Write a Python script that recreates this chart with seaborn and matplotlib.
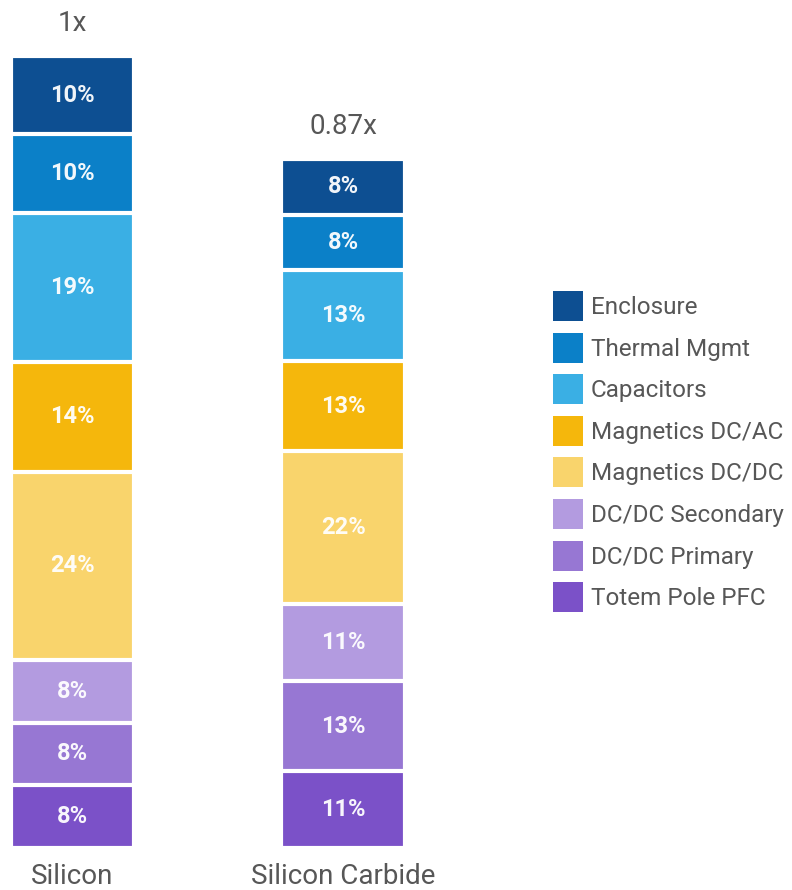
import matplotlib
matplotlib.use("Agg")
import matplotlib.pyplot as plt
import matplotlib.transforms as mtransforms
from matplotlib.patches import Patch
import numpy as np
import pandas as pd
import seaborn as sns

# Cost breakdown of an on-board charger, silicon vs. silicon carbide
materials = ["Silicon", "Silicon Carbide"]
relative_cost = [1.0, 0.87]
cost_labels = ["1x", "0.87x"]

# Components listed from the top of the stack to the bottom
components = ["Enclosure", "Thermal Mgmt", "Capacitors", "Magnetics DC/AC",
              "Magnetics DC/DC", "DC/DC Secondary", "DC/DC Primary",
              "Totem Pole PFC"]
silicon_pct = [10, 10, 19, 14, 24, 8, 8, 8]
sic_pct = [8, 8, 13, 13, 22, 11, 13, 11]

colors = ["#0d4f92", "#0b80c8", "#3aafe4", "#f5b70c", "#f9d46c",
          "#b39be0", "#9777d3", "#7b51c8"]

# Build a tidy table: each segment's height is its share of the bar total
rows = []
for mat, total, pcts in zip(materials, relative_cost, [silicon_pct, sic_pct]):
    pcts = np.array(pcts, dtype=float)
    heights = pcts / pcts.sum() * total
    # cumulative from the bottom of the stack
    bottoms_up = np.cumsum(heights[::-1])[::-1]
    for comp, p, h, top in zip(components, pcts, heights, bottoms_up):
        rows.append({"material": mat, "component": comp, "pct": p,
                     "height": h, "top": top})
df = pd.DataFrame(rows)

sns.set_theme(style="white")
plt.rcParams["font.family"] = ["Roboto", "DejaVu Sans"]

fig = plt.figure(figsize=(7.92, 8.9), dpi=100)
W, H = 792, 890
ax_left_px, ax_right_px = 0, 540
ax_top_px, ax_bot_px = 56, 848
ax = fig.add_axes([ax_left_px / W, (H - ax_bot_px) / H,
                   (ax_right_px - ax_left_px) / W, (ax_bot_px - ax_top_px) / H])

# Overlaid cumulative bars drawn tallest first give a stacked look
sns.barplot(data=df, x="material", y="top", hue="component",
            hue_order=components, order=materials, palette=colors,
            dodge=False, width=0.455, saturation=1, edgecolor="white",
            linewidth=3, legend=False, ax=ax)

text_grey = "#575757"

# Percent labels centred in each segment
for i, mat in enumerate(materials):
    sub = df[df["material"] == mat]
    for _, r in sub.iterrows():
        ax.text(i, r["top"] - r["height"] / 2, f"{int(r['pct'])}%",
                ha="center", va="center", color="white", alpha=0.95,
                fontsize=17, fontweight="bold")
    ax.annotate(cost_labels[i], xy=(i, relative_cost[i]), xytext=(0, 23.5),
                textcoords="offset points", ha="center", va="center",
                fontsize=20, color=text_grey, annotation_clip=False)

# Category names below the bars
trans = mtransforms.blended_transform_factory(ax.transData, fig.transFigure)
for i, mat in enumerate(materials):
    ax.text(i, 1 - 877 / H, mat, transform=trans, ha="center", va="center",
            fontsize=20, color=text_grey)

scale = 270.5
ax.set_xlim(-72.5 / scale, (ax_right_px - 72.5) / scale)
ax.set_ylim(0, 1)
ax.set_axis_off()

handles = [Patch(facecolor=c, edgecolor="none", label=l)
           for c, l in zip(colors, components)]
fig.legend(handles=handles, loc="upper left",
           bbox_to_anchor=(553 / W, 1 - 291 / H), frameon=False,
           fontsize=17.5, handlelength=1.235, handleheight=1.523,
           handletextpad=0.33, labelspacing=0.477, borderpad=0,
           borderaxespad=0, labelcolor=text_grey)

fig.savefig("out.png", dpi=100, facecolor="white")
